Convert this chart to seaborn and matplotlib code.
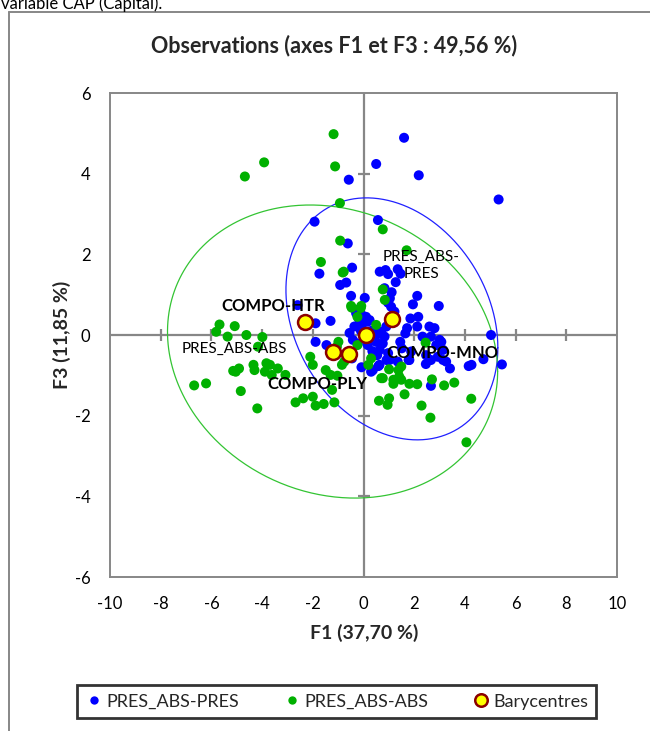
import numpy as np
import pandas as pd
import seaborn as sns
import matplotlib
matplotlib.use("Agg")
import matplotlib.pyplot as plt
from matplotlib.lines import Line2D

# ---------------- data ----------------
pres_x = [1.60, 0.50, 2.18, -0.58, 5.33, -1.93, 0.57, -0.62, -0.45, -1.74,
          -0.92, -0.68, 0.64, 0.87, 0.97, 1.35, 1.46, 1.27, 1.11, 1.04,
          0.97, -0.49, 0.05, 2.12, 1.95, 2.97, 1.09, 1.22, 0.83, -2.60,
          -1.30, -1.89, -1.89, -1.46,
          -0.29, -0.16, -0.03, -0.36, 0.24, 0.43, 0.56, 0.70, 0.90, 0.83,
          0.50, 0.17, -0.22, -0.42, -0.55, 0.30, 0.10, -0.10, 0.35, 0.63,
          0.37, 0.76, -0.31, -0.11, 0.09, 0.16,
          0.64, 0.97, 0.54, 0.91, 0.59, 0.30, -0.08, 1.45, 1.51, 1.78,
          -0.45, 1.03, 1.35, 1.81, 1.88, 0.63, 0.37,
          1.85, 2.16, 2.12, 1.72, 1.65, 2.33, 2.60, 2.80, 2.66, 3.00,
          2.46, 2.66, 2.93, 3.14, 3.14, 3.41, 3.26, 4.15, 4.26, 4.73,
          5.03, 5.46, 2.66, 2.87, 3.07, 2.47]
pres_y = [4.89, 4.24, 3.96, 3.85, 3.36, 2.81, 2.85, 2.27, 1.67, 1.52,
          1.24, 1.30, 1.57, 1.61, 1.51, 1.63, 1.52, 1.31, 1.06, 0.91,
          0.80, 0.97, 0.92, 0.97, 0.76, 0.72, 0.70, 0.58, 1.16, 0.74,
          0.35, 0.29, -0.17, -0.25,
          0.54, 0.37, 0.29, 0.21, 0.37, 0.12, 0.04, 0.08, 0.21, -0.04,
          -0.17, -0.25, -0.21, -0.12, 0.05, 0.10, 0.45, 0.10, -0.40, 0.04,
          -0.12, -0.21, 0.62, 0.54, 0.41, 0.33,
          -0.37, -0.45, -0.50, -0.62, -0.77, -0.91, -0.80, -0.17, -0.33, -0.62,
          -0.58, -0.62, -0.66, -0.62, -0.41, -0.74, -0.87,
          0.41, 0.45, 0.21, 0.17, 0.04, -0.04, 0.21, 0.17, -0.04, -0.12,
          -0.72, -0.62, -0.54, -0.37, -0.62, -0.83, -0.66, -0.77, -0.74, -0.60,
          0.00, -0.73, -1.26, -0.25, -0.17, -0.50]

abs_x = [-1.18, -3.92, -4.68, -1.12, -0.93, 0.76, -0.92, 1.70, -1.68, -0.78,
         0.76, 0.84, -0.47, -0.11, -0.24,
         -5.68, -5.08, -5.81, -5.36, -4.62, -3.99, -4.16,
         -5.14, -4.91, -5.04, -4.34, -4.30, -3.83, -3.69, -3.89, -3.62, -3.38, -3.08,
         -6.68, -6.21, -4.84, -4.19,
         -2.68, -2.38, -2.00, -1.89, -1.57, -1.15,
         -2.10, -2.00, -1.49, -1.30, -1.03, -0.85, -0.76, -1.24,
         -0.99, -1.05, -0.24,
         0.19, 0.30, 0.70, 1.01, 1.18, 1.18, 1.38, 1.49, 1.41, 1.49, 0.76,
         1.81, 2.12, 1.62, 2.70, 3.18, 3.58,
         0.61, 1.01, 0.95, 2.29, 2.64, 4.25, 4.06, 2.45,
         -0.82, 0.50, 1.16, -0.49, -0.09]
abs_y = [4.98, 4.28, 3.93, 4.18, 3.27, 2.62, 2.34, 2.10, 1.81, 1.57,
         1.13, 0.87, 0.68, 0.67, 0.45,
         0.26, 0.22, 0.08, -0.04, 0.00, -0.05, -0.29,
         -0.89, -0.83, -0.91, -0.74, -0.87, -0.70, -0.74, -0.91, -0.99, -0.83, -0.99,
         -1.25, -1.20, -1.39, -1.82,
         -1.67, -1.57, -1.53, -1.75, -1.71, -1.67,
         -0.54, -0.74, -0.87, -0.99, -1.01, -0.74, -0.66, -1.36,
         -0.17, -0.29, -0.25,
         -0.74, -0.58, -1.07, -0.85, -1.11, -1.21, -0.87, -0.78, -1.03, -1.11, -1.07,
         -1.21, -1.22, -1.47, -1.10, -1.25, -1.18,
         -1.63, -1.57, -1.73, -1.75, -2.05, -1.58, -2.66, -0.19,
         1.55, 0.25, 0.30, 0.72, 0.72]

bary_names = ["COMPO-HTR", "PRES_ABS-ABS", "COMPO-PLY", "COMPO-MNO", "PRES_ABS-PRES"]
bary_x = [-2.29, -1.22, -0.58, 0.09, 1.12]
bary_y = [0.33, -0.41, -0.46, -0.01, 0.40]

label_text = ["COMPO-HTR", "PRES_ABS-ABS", "COMPO-PLY", "COMPO-MNO", "PRES_ABS-\nPRES"]
label_x = [-3.56, -5.10, -1.80, 3.10, 2.27]
label_y = [0.73, -0.35, -1.21, -0.45, 1.73]
label_bold = [True, False, True, True, False]

ell_group = ["PRES_ABS-PRES", "PRES_ABS-ABS"]
ell_cx = [1.12, -1.22]
ell_cy = [0.40, -0.41]
ell_var_x = [17.47, 42.4]
ell_var_y = [9.0, 13.2]
ell_cov = [-3.0, -3.2]

x_ticks = [-10, -8, -6, -4, -2, 0, 2, 4, 6, 8, 10]
y_ticks = [-6, -4, -2, 0, 2, 4, 6]

colors = {"PRES_ABS-PRES": "#0000FF", "PRES_ABS-ABS": "#00B000"}
ell_colors = {"PRES_ABS-PRES": "#2020FF", "PRES_ABS-ABS": "#33C433"}

# ---------------- figure ----------------
sns.set_theme(style="white")
plt.rcParams["font.family"] = ["Lato", "DejaVu Sans"]
plt.rcParams["axes.unicode_minus"] = False

W, H = 650, 731
fig = plt.figure(figsize=(W / 100, H / 100), dpi=100)
ax = fig.add_axes([110 / W, 1 - 577 / H, 507 / W, 484 / H])

df = pd.concat([
    pd.DataFrame({"F1": pres_x, "F3": pres_y, "grp": "PRES_ABS-PRES"}),
    pd.DataFrame({"F1": abs_x, "F3": abs_y, "grp": "PRES_ABS-ABS"}),
], ignore_index=True)

gray = "#878787"
ax.axhline(0, color=gray, lw=1.6, zorder=1)
ax.axvline(0, color=gray, lw=1.6, zorder=1)
ax.plot(x_ticks[1:-1], [0] * (len(x_ticks) - 2), ls="none", marker="|",
        ms=8, mew=1.6, color=gray, zorder=1)
ax.plot([0] * (len(y_ticks) - 2), y_ticks[1:-1], ls="none", marker="_",
        ms=8, mew=1.6, color=gray, zorder=1)

# confidence ellipses
t = np.linspace(0, 2 * np.pi, 400)
for g, cx, cy, vx, vy, cv in zip(ell_group, ell_cx, ell_cy, ell_var_x, ell_var_y, ell_cov):
    L = np.linalg.cholesky(np.array([[vx, cv], [cv, vy]]))
    pts = L @ np.vstack([np.cos(t), np.sin(t)])
    ax.plot(cx + pts[0], cy + pts[1], color=ell_colors[g], lw=0.9, zorder=2)

sns.scatterplot(data=df, x="F1", y="F3", hue="grp", palette=colors,
                s=52, linewidth=0, edgecolor="none", ax=ax, legend=False, zorder=3)
sns.scatterplot(x=bary_x, y=bary_y, s=115, color="#FFFF00", edgecolor="#8B0000",
                linewidth=1.8, ax=ax, legend=False, zorder=5)

for txt, lx, ly, b in zip(label_text, label_x, label_y, label_bold):
    ax.text(lx, ly, txt, ha="center", va="center", fontsize=12 if b else 11,
            fontweight="bold" if b else "normal", color="black",
            linespacing=1.25, zorder=6)

ax.set_xlim(-10, 10)
ax.set_ylim(-6, 6)
ax.set_xticks(x_ticks)
ax.set_yticks(y_ticks)
ax.tick_params(length=0, labelsize=12, colors="black")
ax.tick_params(axis="x", pad=14)
ax.tick_params(axis="y", pad=14)
ax.set_xlabel("")
ax.set_ylabel("")
for sp in ax.spines.values():
    sp.set_visible(True)
    sp.set_color(gray)
    sp.set_linewidth(1.4)

fig.text(334 / W, 1 - 46 / H, "Observations (axes F1 et F3 : 49,56 %)",
         ha="center", va="center", fontsize=15.5, fontweight="bold")
fig.text(364 / W, 1 - 633 / H, "F1 (37,70 %)", ha="center", va="center",
         fontsize=14, fontweight="bold")
fig.text(62 / W, 1 - 335 / H, "F3 (11,85 %)", ha="center", va="center",
         fontsize=14, fontweight="bold", rotation=90)

# cut-off text from the page above and the chart frame
fig.text(1 / W, 1 - 4 / H, "variable CAP (Capital).", ha="left", va="center",
         fontsize=12, color="black")
fig.add_artist(Line2D([9 / W, 9 / W], [0, 1 - 12 / H], transform=fig.transFigure,
                      color=gray, lw=1.4))
fig.add_artist(Line2D([9 / W, 1], [1 - 12 / H, 1 - 12 / H], transform=fig.transFigure,
                      color=gray, lw=1.4))

handles = [
    Line2D([], [], ls="none", marker="o", ms=6, color="#0000FF", mew=0),
    Line2D([], [], ls="none", marker="o", ms=6, color="#00B000", mew=0),
    Line2D([], [], ls="none", marker="o", ms=9, mfc="#FFFF00", mec="#8B0000", mew=1.8),
]
leg = fig.legend(handles, ["PRES_ABS-PRES", "PRES_ABS-ABS", "Barycentres"],
                 loc="center", bbox_to_anchor=(336.5 / W, 1 - 701.5 / H), ncol=3,
                 frameon=True, fontsize=13, handletextpad=0.2, columnspacing=2.4,
                 handlelength=1.0, borderpad=0.45, borderaxespad=0, fancybox=False)
leg.get_frame().set_edgecolor("black")
leg.get_frame().set_linewidth(2)

fig.savefig("out.png", dpi=100)
